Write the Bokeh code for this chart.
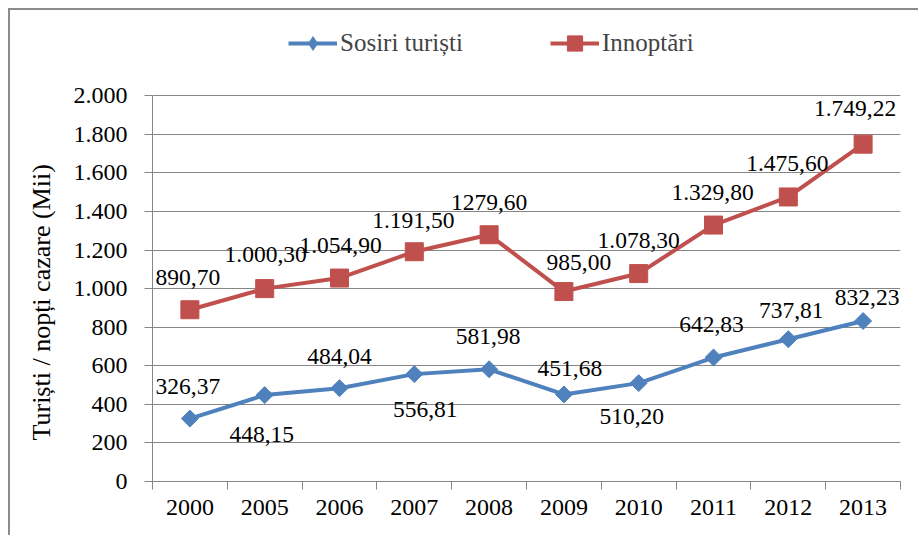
import numpy as np
from bokeh.plotting import figure
from bokeh.models import (Range1d, FixedTicker, Legend, LegendItem, ColumnDataSource,
                          LabelSet, Title)
from bokeh.embed import file_html
from bokeh.resources import INLINE
from bokeh.core.properties import value

# ---- data ----
years = ["2000", "2005", "2006", "2007", "2008", "2009", "2010", "2011", "2012", "2013"]
sosiri = [326.37, 448.15, 484.04, 556.81, 581.98, 451.68, 510.20, 642.83, 737.81, 832.23]
innoptari = [890.70, 1000.30, 1054.90, 1191.50, 1279.60, 985.00, 1078.30, 1329.80, 1475.60, 1749.22]
sosiri_labels = ["326,37", "448,15", "484,04", "556,81", "581,98", "451,68", "510,20", "642,83", "737,81", "832,23"]
innoptari_labels = ["890,70", "1.000,30", "1.054,90", "1.191,50", "1279,60", "985,00", "1.078,30", "1.329,80", "1.475,60", "1.749,22"]
y_ticks = [0, 200, 400, 600, 800, 1000, 1200, 1400, 1600, 1800, 2000]
y_tick_labels = ["0", "200", "400", "600", "800", "1.000", "1.200", "1.400", "1.600", "1.800", "2.000"]
y_title = "Turiști / nopți cazare (Mii)"

# ---- label placement (style, pixels; positive = up) ----
sosiri_dx = [-2, -3, 0, 11, -1, 6, -7, -2, 3, 4]
sosiri_dy = [32, -39, 32, -35, 33, 26, -33, 33, 29, 24]
innoptari_dx = [-2, 1, 1, -1, 0, 15, 0, -1, -1, -8]
innoptari_dy = [32, 34, 33, 31, 32, 29, 33, 33, 33, 36]

BLUE = "#4F81BD"
RED = "#C0504D"
GRAY = "#868686"
FONT = "Liberation Serif"

n = len(years)
xc = [i + 0.5 for i in range(n)]
bounds = list(range(n + 1))

# the frame extends above the value axis to hold the legend
Y_MAX = 2000
FRAME_H = 459
PLOT_H = 384
y_top = Y_MAX * FRAME_H / PLOT_H

p = figure(width=910, height=527, output_backend="svg", toolbar_location=None,
           x_range=Range1d(0, n), y_range=Range1d(0, y_top),
           min_border_left=142, min_border_right=20, min_border_top=10, min_border_bottom=56)
p.styles = {"margin-left": "8px", "margin-top": "8px",
            "border-left": "2px solid #8c8c8c", "border-top": "2px solid #8c8c8c"}
p.outline_line_color = None
p.background_fill_color = "white"
p.border_fill_color = "white"

# grid
p.xgrid.visible = False
p.ygrid.ticker = FixedTicker(ticks=y_ticks)
p.ygrid.grid_line_color = GRAY
p.ygrid.grid_line_width = 1

# y axis
ya = p.yaxis[0]
ya.bounds = (0, Y_MAX)
ya.ticker = FixedTicker(ticks=y_ticks)
ya.major_label_overrides = {t: l for t, l in zip(y_ticks, y_tick_labels)}
ya.axis_line_color = GRAY
ya.major_tick_line_color = GRAY
ya.major_tick_in = 0
ya.major_tick_out = 8
ya.minor_tick_line_color = None
ya.major_label_text_font = FONT
ya.major_label_text_font_size = "24px"
ya.major_label_text_color = "black"
ya.major_label_standoff = 17

# y title, aligned with the value axis (not the whole frame)
yt = Title(text=y_title, align="left", offset=41, standoff=29,
           text_font=FONT, text_font_size="26px", text_font_style="normal",
           text_color="black")
p.add_layout(yt, "left")

# x axis
xa = p.xaxis[0]
xa.ticker = FixedTicker(ticks=xc, minor_ticks=bounds)
xa.major_label_overrides = {t: y for t, y in zip(xc, years)}
xa.axis_line_color = GRAY
xa.major_tick_line_color = None
xa.major_tick_in = 0
xa.major_tick_out = 0
xa.minor_tick_line_color = GRAY
xa.minor_tick_in = 0
xa.minor_tick_out = 8
xa.major_label_text_font = FONT
xa.major_label_text_font_size = "24px"
xa.major_label_text_color = "black"
xa.major_label_standoff = 10

# series
src_b = ColumnDataSource(dict(x=xc, y=sosiri, lab=sosiri_labels, dx=sosiri_dx, dy=sosiri_dy))
src_r = ColumnDataSource(dict(x=xc, y=innoptari, lab=innoptari_labels, dx=innoptari_dx, dy=innoptari_dy))

bl = p.line("x", "y", source=src_b, line_color=BLUE, line_width=4)
bs = p.scatter("x", "y", source=src_b, marker="square", angle=np.pi / 4, size=12,
               fill_color=BLUE, line_color=BLUE)
rl = p.line("x", "y", source=src_r, line_color=RED, line_width=4)
rs = p.scatter("x", "y", source=src_r, marker="square", size=18,
               fill_color=RED, line_color=RED)
# legend proxy: diamond symbol for the legend (zero size in the plot)
bd = p.scatter("x", "y", source=src_b, marker="diamond", size=0,
               fill_color=BLUE, line_color=None)

for src in (src_b, src_r):
    p.add_layout(LabelSet(x="x", y="y", text="lab", x_offset="dx", y_offset="dy", source=src,
                          text_align="center", text_baseline="middle",
                          text_font=value(FONT), text_font_size=value("23.5px"),
                          text_color="black"))

legend = Legend(items=[LegendItem(label="Sosiri turiști", renderers=[bl, bd]),
                       LegendItem(label="Innoptări", renderers=[rl, rs])],
                orientation="horizontal", location=(136, 419),
                padding=0, margin=0, spacing=87, label_standoff=3,
                glyph_width=49, glyph_height=38,
                label_text_font=FONT, label_text_font_size="25px",
                border_line_color=None, background_fill_alpha=0)
p.add_layout(legend)

open("out.html", "w").write(file_html(p, INLINE))
